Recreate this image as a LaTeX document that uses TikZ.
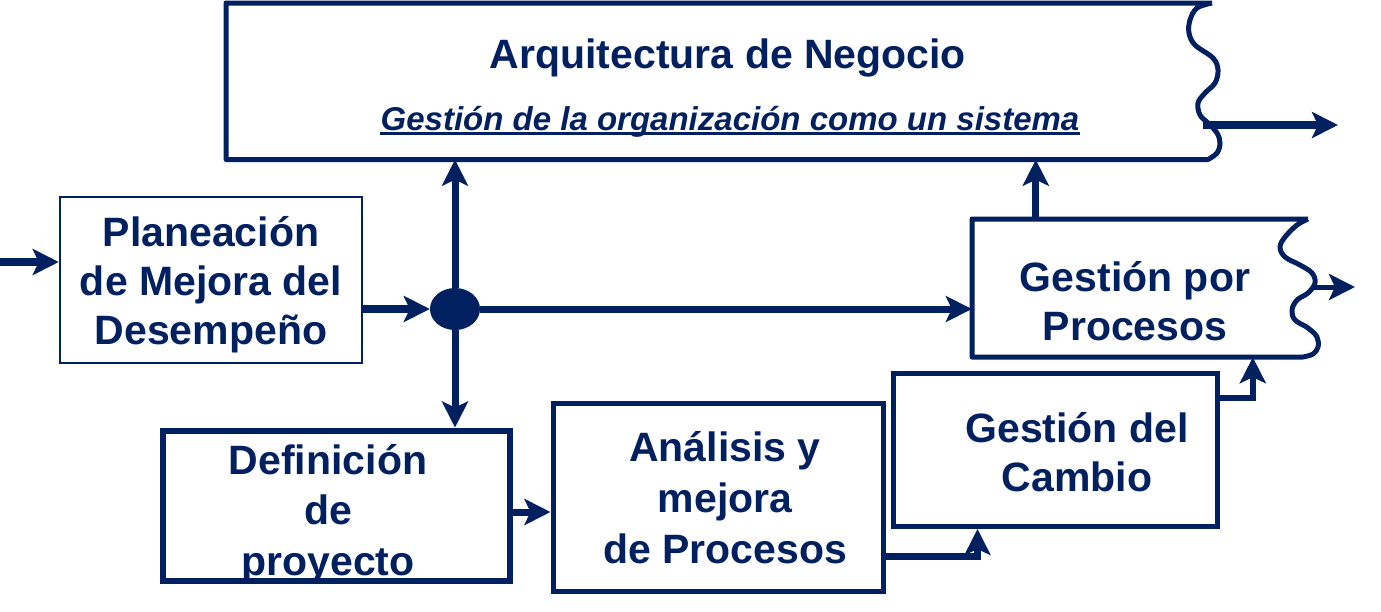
\documentclass[tikz,border=0pt]{standalone}
\usepackage{fontspec}
\setmainfont{Liberation Sans}
\usepackage{tikz}
\usetikzlibrary{positioning, arrows.meta, calc, shapes.geometric}
\definecolor{navy}{RGB}{0,32,96}

\begin{document}
\begin{tikzpicture}[
    x=1pt, y=-1pt,
    blk/.style={rectangle, draw=navy, line width=5pt, inner sep=0pt},
    ghost/.style={rectangle, inner sep=0pt},
    lbl/.style={text=navy, font=\fontsize{41}{49}\selectfont\bfseries, align=center, inner sep=0pt},
    flow/.style={draw=navy, line width=7pt, -{Stealth[length=26pt, width=26pt, inset=6pt]}},
    wave/.style={draw=navy, line width=5pt, line join=round}
]
    \useasboundingbox (0,0) rectangle (1381,611);

    % --- Arquitectura de Negocio (wavy right edge) ---
    \node[ghost, minimum width=986pt, minimum height=157pt] (arq) at (719,81) {};
    \draw[wave] (1212,3) -- (226,3) -- (226,159.5) -- (1208,159.5) -- plot[smooth, tension=0.6]
      coordinates {(1208,159.5) (1217,153) (1220,143) (1217,133) (1208,123) (1200,115) (1198,103)
                   (1205,93) (1215,83) (1218,70) (1213,58) (1195,45) (1189,33) (1190,20) (1197,8) (1212,3)};
    \node[lbl, anchor=base] (arqT) at (728,68) {Arquitectura de Negocio};
    \node[lbl, anchor=base, font=\fontsize{33}{40}\selectfont\bfseries\itshape] (subT) at (730,130)
      {Gestión de la organización como un sistema};
    \draw[navy, line width=2.5pt] ($(subT.base west)+(0,3.5)$) -- ($(subT.base east)+(0,3.5)$);

    % --- Gestión por Procesos (wavy right edge) ---
    \node[ghost, minimum width=338pt, minimum height=138pt] (gpp) at (1141,288) {};
    \draw[wave] (1308,219) -- (972,219) -- (972,357) -- (1303,357) -- plot[smooth, tension=0.6]
      coordinates {(1303,357) (1313,354) (1318,347) (1317,337) (1308,328) (1295,320) (1292,310)
                   (1297,300) (1308,293) (1315,283) (1312,273) (1300,265) (1285,257) (1280,247)
                   (1285,237) (1297,225) (1308,219)};
    \node[lbl] (gppT) at (1135,301) {Gestión por\\Procesos};

    % --- plain boxes ---
    \node[blk, line width=2.5pt, minimum width=302pt, minimum height=166pt] (plan) at (211,280) {};
    \node[lbl] (planT) at (211,285) {Planeación\\de Mejora del\\Desempeño};

    \node[blk, line width=6pt, minimum width=347pt, minimum height=150pt] (def) at (336,505.5) {};
    \node[lbl, font=\fontsize{41}{50.5}\selectfont\bfseries] (defT) at (328,514) {Definición\\de\\proyecto};

    \node[blk, minimum width=330pt, minimum height=188pt] (ana) at (718,497.5) {};
    \node[lbl, font=\fontsize{41}{51}\selectfont\bfseries] (anaT) at (725,498) {Análisis y\\mejora\\de Procesos};

    \node[blk, minimum width=324pt, minimum height=153pt] (gdc) at (1055,450) {};
    \node[lbl] (gdcT) at (1077,452) {Gestión del\\Cambio};

    % junction
    \node[ellipse, fill=navy, minimum width=50pt, minimum height=42pt, inner sep=0pt] (junc) at (455,309) {};

    % --- connectors ---
    \coordinate (src) at (0,262);
    \draw[flow, line width=8pt] (src) -- (src -| plan.west);
    \draw[flow, line width=8pt] (plan.east |- junc) -- (junc.west);
    \draw[flow] (junc.north) -- (junc |- arq.south);
    \draw[flow] (junc.south) -- (junc |- def.north);
    \draw[flow] (junc.east) -- (junc -| gpp.west);

    \coordinate (gppUp) at ($(gpp.north west)+(64,0)$);
    \draw[flow] (gppUp) -- (gppUp |- arq.south);

    \coordinate (arqOut) at (1203,125);
    \coordinate (arqEnd) at (1338,125);
    \draw[flow, line width=8pt] (arqOut) -- (arqEnd);

    \coordinate (gppOut) at (1313,287);
    \coordinate (gppEnd) at (1355,287);
    \draw[flow, line width=5pt] (gppOut) -- (gppEnd);

    \coordinate (defOut) at ($(def.east)+(0,6.5)$);
    \draw[flow] (defOut) -- (defOut -| ana.west);

    \coordinate (anaOut) at ($(ana.east)+(0,58.5)$);
    \coordinate (gdcIn) at ($(gdc.south west)+(87,0)$);
    \draw[flow] (anaOut) -| (gdcIn);

    \coordinate (gdcOut) at ($(gdc.east)+(0,-52)$);
    \coordinate (gppIn) at ($(gpp.south west)+(281,0)$);
    \draw[flow, line width=6pt] (gdcOut) -| (gppIn);

\end{tikzpicture}
\end{document}
